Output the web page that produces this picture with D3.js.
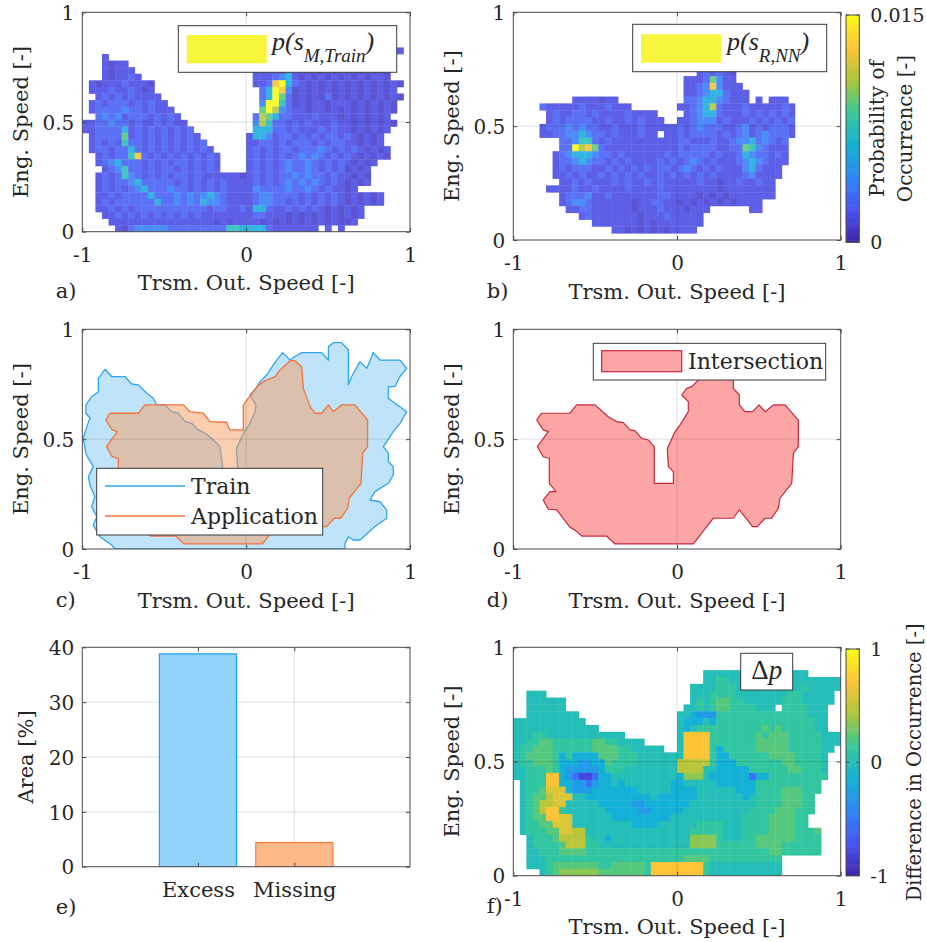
<!DOCTYPE html>
<html>
<head>
<meta charset="utf-8">
<script src="https://cdn.jsdelivr.net/npm/d3@7/dist/d3.min.js"></script>
<style>
  html, body { margin: 0; padding: 0; background: #ffffff; }
  svg { display: block; }
  text { font-family: "DejaVu Serif", serif; fill: #262626; }
  .math { font-family: "Liberation Serif", "DejaVu Serif", serif; }
</style>
</head>
<body>
<svg id="fig" width="927" height="942"></svg>
<script>
// ---------- axis ticks ----------
const xTicks = [-1, 0, 1];
const xTickLabels = ["-1", "0", "1"];
const yTicks = [0, 0.5, 1];
const yTickLabels = ["0", "0.5", "1"];
const xGridValues = [0];
const yGridValues = [0.5];

// ---------- histogram grid ----------
const binWidthX = 0.04;   // transmission output speed bin
const binWidthY = 0.03;   // engine speed bin
const probabilityMax = 0.015;
// occurrence probability per cell, as a fraction of probabilityMax
const probabilityLevel = {"1":0.07,"2":0.11,"3":0.17,"4":0.26,"5":0.40,"6":0.50,"7":0.61,"8":0.72,"9":0.85,"a":1.0};
// difference in occurrence per cell (-1 ... 1)
const differenceLevel = {"A":-0.8,"B":-0.55,"C":-0.3,"D":-0.15,"0":0,"1":0.1,"2":0.22,"3":0.35,"4":0.48,"5":0.6,"6":0.72};

// Rows run from engine speed 0.96-0.99 (first) down to 0-0.03 (last);
// one character per speed bin from -1 to 1, "." = no samples.
const trainRows = [
  ".......... .......... .......... .......... ..........",
  ".......... .......... .......... .......... ..........",
  ".......... .......... .......... .......... ..........",
  ".......... .......... .......... .......... ..........",
  ".......... .......... .......... .......... ..........",
  ".......... .......... .......... .......... ........2.",
  "...2...... .......... .......... .......... ..........",
  "...2122... .......... .......... .......... ..........",
  "...21222.. .......... ......2222 1522121212 1212121...",
  "...212232. .......... ......2223 4521212121 2121221...",
  ".212223222 1......... ......2239 a532121212 121212121.",
  ".222322321 2......... .......35a 9412121212 12121212..",
  "..23232322 22........ .......35a 7312121312 121212121.",
  ".232333232 322....... .......4aa 6312122122 21212121..",
  ".233334332 3222...... .......7a8 4322122121 21212121..",
  "..34342333 23232..... ......3875 3322232221 2121212...",
  "2233433232 232322.... ......4863 3232322232 21212121..",
  "2233335232 3232323... ......5553 3232223232 2121212...",
  ".233337232 32323232.. .....25542 3323232332 321212....",
  ".232326332 323232323. .....22332 3233323233 221212....",
  ".233233532 3232323232 .....23232 3323334323 2321212...",
  "..23233693 2323232323 2....23232 3234343232 3212121...",
  "..23453332 3232332323 2....23232 3433432323 21212.....",
  "...2346332 3233232323 2....23232 3433432323 1212......",
  "..23236432 3232332322 2222123232 3343433232 2121......",
  "..23233453 3333232323 2322223232 3434343232 1212......",
  "..23232345 3334332323 2322224333 3433432322 12........",
  "..22323333 5333434345 4322223443 3332323232 121212....",
  "..23233333 3533434354 4322223443 3232323232 121212....",
  "..22323233 3333333332 3322325532 2323232121 212.......",
  "...2232323 2323232322 2222223322 2121212121 212.......",
  "....222222 2222222222 1212222121 2121212121 12........",
  ".....21344 4443333333 3366555532 222222.2.2 .........."
];

const applicationRows = [
  ".......... .......... .......... .......... ..........",
  ".......... .......... .......... .......... ..........",
  ".......... .......... .......... .......... ..........",
  ".......... .......... .......... .......... ..........",
  ".......... .......... .......... .......... ..........",
  ".......... .......... .......... .......... ..........",
  ".......... .......... .......... .......... ..........",
  ".......... .......... .......... .......... ..........",
  ".......... .......... ........23 2321...... ..........",
  ".......... .......... ......2223 7422...... ..........",
  ".......... .......... ......2234 94222..... ..........",
  ".......... .......... ......2234 553222.... ..........",
  ".........2 222122.... ......3345 543222.2.2 22........",
  "....322222 32223222.. .....22345 8322232222 232.......",
  ".....23223 3232222322 22....2345 5322232323 232.......",
  ".....23233 3322322323 222..22344 4232223232 323.......",
  "....233343 4332232223 2222232343 3322342323 332.......",
  "....223344 5433232223 22.2232333 3232342343 332.......",
  ".......334 6632322222 2222233222 3223445343 23........",
  ".......33a 8973222222 2222232333 3223376432 22........",
  "......2345 5543323222 2223233333 2322354332 32........",
  "......2334 5433232322 2232323432 3222345432 22........",
  "......2323 3322323232 3233234323 2322245322 2.........",
  "......2232 3223232323 2232323232 3222234222 2.........",
  ".......223 2322232322 3232222232 2122322322 ..........",
  ".....22223 2232222322 2232222222 2122222222 ..........",
  ".......233 3422322222 2233222212 1212222222 ..........",
  ".......234 4322222212 2332212121 21212222.. ..........",
  "........22 3322222212 2232221222 ......22.. ..........",
  ".......... 2322222221 222322222. .......... ..........",
  ".......... ..22222221 212222222. .......... ..........",
  ".......... .....22121 21212222.. .......... ..........",
  ".......... .......... .......... .......... .........."
];

const differenceRows = [
  ".......... .......... .......... .......... ..........",
  ".......... .......... .......... .......... ..........",
  ".......... .......... .......... .......... ..........",
  ".......... .......... .........0 0000000000 00000.....",
  ".......... .......... .........0 0110000000 0000000000",
  ".......... .......... .......000 0111000000 0000100000",
  "..000..... .......... .......000 1111000000 001100000.",
  "..000000.. .......... .......010 1221100000 011100000.",
  "..000000.. .......... ......0010 1221111000 .1111000..",
  "..00000000 .......... .....00DCC C111111111 11111000..",
  "0000000000 0......... .....0DDD0 D111111111 11111100..",
  "0000000000 000....... .....0D011 1111111121 21111100..",
  "0001100000 0000000... .....06666 1111111212 2211111000",
  "0011221111 1122110000 .....06666 1111111222 2211111000",
  "0112221111 1122221100 000..06666 1D11111222 221111100.",
  "0122221D1D DDD2221110 0000006666 1DD1111112 22211110..",
  "0112221DDD CCDD211110 0000044444 1DDD111111 12211110..",
  "0011121DCC CCCD111000 0000044440 0DDDDD1111 11221110..",
  "0011166DCB AABDD00000 00000D3330 DDDDDDBDD1 11111111..",
  ".011166DDC CBCDD0D000 0000DD0000 0DDDDDD111 1111111...",
  ".0112555DC CCDDDDDDD0 0000DDDD00 0000DDD111 1222111...",
  ".012245550 0DDDDDDDDD D0DDDDDD00 00000D0111 122211....",
  ".012445500 000DDDDDCC DDDDDDD000 0000000111 122211....",
  ".012466100 0000DDDDDC CDDDDD0000 0000001111 222111....",
  ".012266550 00000DDDDD DDDD000000 0000011112 22211.....",
  ".011225550 00000000DD DD00000011 1100011112 22211.....",
  ".011122554 4000000000 0000000111 1100011112 2221112...",
  "..01112444 4100D00000 0000000333 3100011222 2221111...",
  "..01111244 4110000000 0000000333 3111111222 2111111...",
  "..00111222 2111111111 1111111111 1111111112 2111111...",
  "..00011111 1111111111 1111112222 1111111111 1.........",
  "..00012222 2221122222 1666666661 0000000000 0.........",
  "....012333 3332222222 1666666661 0000000000 0........."
];

// Operating-range outlines [transmission output speed, engine speed]
const trainOutline = [
  [-0.902,0.777],[-0.862,0.818],[-0.821,0.785],[-0.740,0.785],[-0.699,0.751],[-0.658,0.747],
  [-0.607,0.709],[-0.567,0.686],[-0.546,0.656],[-0.495,0.656],[-0.455,0.625],[-0.414,0.618],
  [-0.373,0.580],[-0.333,0.572],[-0.292,0.542],[-0.251,0.527],[-0.211,0.504],[-0.160,0.466],
  [-0.143,0.375],[-0.139,0.299],[-0.022,0.299],[-0.022,0.352],[-0.053,0.375],[-0.059,0.458],
  [-0.012,0.534],[0.018,0.564],[0.054,0.625],[0.060,0.656],[0.023,0.701],[0.059,0.731],
  [0.085,0.762],[0.125,0.792],[0.146,0.815],[0.186,0.860],[0.223,0.894],[0.268,0.860],
  [0.298,0.876],[0.339,0.894],[0.461,0.894],[0.502,0.860],[0.502,0.921],[0.532,0.939],
  [0.583,0.939],[0.624,0.906],[0.624,0.747],[0.644,0.785],[0.695,0.853],[0.736,0.822],
  [0.776,0.894],[0.817,0.860],[0.939,0.860],[0.980,0.822],[0.939,0.785],[0.908,0.739],
  [0.868,0.739],[0.868,0.686],[0.908,0.663],[0.980,0.625],[0.939,0.572],[0.898,0.534],
  [0.858,0.489],[0.837,0.466],[0.868,0.436],[0.868,0.398],[0.898,0.375],[0.898,0.337],
  [0.868,0.299],[0.786,0.261],[0.756,0.223],[0.817,0.215],[0.858,0.178],[0.858,0.140],
  [0.786,0.102],[0.695,0.041],[0.654,0.041],[0.624,0.056],[0.603,0.026],[0.603,0.0],
  [-0.801,0.0],[-0.821,0.018],[-0.892,0.056],[-0.933,0.109],[-0.912,0.147],[-0.943,0.193],
  [-0.923,0.238],[-0.953,0.290],[-0.963,0.329],[-0.933,0.375],[-0.969,0.420],[-0.978,0.436],
  [-0.994,0.504],[-0.969,0.564],[-0.953,0.595],[-0.978,0.618],[-0.978,0.656],[-0.943,0.693],
  [-0.902,0.716]
];

const applicationOutline = [
  [-0.856,0.587],[-0.831,0.618],[-0.658,0.618],[-0.617,0.656],[-0.383,0.656],[-0.343,0.625],
  [-0.261,0.618],[-0.221,0.580],[-0.119,0.577],[-0.099,0.542],[-0.017,0.542],[-0.017,0.656],
  [0.064,0.736],[0.105,0.762],[0.176,0.785],[0.207,0.815],[0.268,0.857],[0.298,0.857],
  [0.339,0.830],[0.349,0.731],[0.390,0.648],[0.420,0.618],[0.461,0.618],[0.502,0.656],
  [0.532,0.625],[0.583,0.656],[0.664,0.656],[0.741,0.587],[0.741,0.466],[0.711,0.436],
  [0.701,0.299],[0.629,0.231],[0.619,0.185],[0.578,0.140],[0.538,0.140],[0.491,0.102],
  [0.462,0.102],[0.381,0.178],[0.344,0.140],[0.222,0.140],[0.100,0.023],[-0.379,0.023],
  [-0.430,0.059],[-0.582,0.059],[-0.623,0.086],[-0.654,0.099],[-0.735,0.178],[-0.786,0.181],
  [-0.817,0.223],[-0.776,0.261],[-0.739,0.261],[-0.780,0.299],[-0.780,0.413],[-0.817,0.420],
  [-0.853,0.466],[-0.786,0.534],[-0.817,0.542]
];

const intersectionOutline = [
  [-0.857,0.587],[-0.827,0.618],[-0.654,0.618],[-0.613,0.656],[-0.501,0.656],[-0.420,0.602],
  [-0.369,0.580],[-0.328,0.575],[-0.287,0.542],[-0.257,0.539],[-0.216,0.504],[-0.175,0.496],
  [-0.139,0.466],[-0.139,0.299],[-0.022,0.299],[-0.022,0.352],[-0.053,0.375],[-0.059,0.458],
  [-0.012,0.534],[0.018,0.564],[0.069,0.625],[0.069,0.671],[0.029,0.701],[0.059,0.731],
  [0.090,0.739],[0.130,0.769],[0.176,0.785],[0.207,0.815],[0.268,0.857],[0.298,0.857],
  [0.339,0.830],[0.344,0.769],[0.344,0.731],[0.381,0.701],[0.381,0.656],[0.415,0.625],
  [0.462,0.625],[0.501,0.656],[0.538,0.625],[0.589,0.656],[0.660,0.656],[0.741,0.587],
  [0.741,0.466],[0.711,0.436],[0.701,0.299],[0.629,0.231],[0.619,0.185],[0.578,0.140],
  [0.538,0.140],[0.491,0.102],[0.462,0.102],[0.381,0.178],[0.344,0.140],[0.222,0.140],
  [0.100,0.023],[-0.379,0.023],[-0.430,0.059],[-0.582,0.059],[-0.623,0.086],[-0.654,0.099],
  [-0.735,0.178],[-0.786,0.181],[-0.817,0.223],[-0.776,0.261],[-0.739,0.261],[-0.780,0.299],
  [-0.780,0.413],[-0.817,0.420],[-0.853,0.466],[-0.786,0.534],[-0.817,0.542]
];

// ---------- area comparison ----------
const areaCategories = ["Excess", "Missing"];
const areaPositions = [1, 2];
const areaValues = [38.8, 4.4];
const areaTicks = [0, 10, 20, 30, 40];
const areaTickLabels = ["0", "10", "20", "30", "40"];

// ---------- colour map (parula) ----------
const parulaStops = ["#3e26a8","#4852f4","#2e87f7","#12b1d6","#37c897","#abc739","#fec338","#f9fb15"];
const parula = d3.scaleLinear()
  .domain(parulaStops.map((_, i) => i / (parulaStops.length - 1)))
  .range(parulaStops).interpolate(d3.interpolateRgb).clamp(true);
const probabilityNorm = d3.scaleLinear().domain([0, probabilityMax]).range([0, 1]);
const differenceNorm = d3.scaleLinear().domain([-1, 1]).range([0, 1]);

// ---------- layout ----------
const svg = d3.select("#fig");
const defs = svg.append("defs");
const frames = {
  a: {l: 82.3, r: 410, t: 12.3, b: 231.7},
  b: {l: 513.3, r: 840.7, t: 12.3, b: 240},
  c: {l: 82.3, r: 410, t: 329.3, b: 549},
  d: {l: 513.3, r: 840.7, t: 329.3, b: 549},
  e: {l: 82.3, r: 410, t: 647.3, b: 866.7},
  f: {l: 513.3, r: 840.7, t: 647.3, b: 875.7}
};
const axisColor = "#4a4a4a";

function makePanel(key, xDomain, yDomain) {
  const bx = frames[key];
  const x = d3.scaleLinear().domain(xDomain).range([bx.l, bx.r]);
  const y = d3.scaleLinear().domain(yDomain).range([bx.b, bx.t]);
  const g = svg.append("g").attr("class", "panel-" + key);
  const cid = "clip-" + key;
  defs.append("clipPath").attr("id", cid).append("rect")
    .attr("x", bx.l).attr("y", bx.t).attr("width", bx.r - bx.l).attr("height", bx.b - bx.t);
  const under = g.append("g");   // layer below the data (used for bar grid)
  const plot = g.append("g").attr("clip-path", `url(#${cid})`);
  return {key, bx, x, y, g, under, plot};
}

function drawCells(p, rows, colorOf, opacity) {
  const cells = [];
  rows.forEach((raw, i) => {
    const row = raw.replace(/ /g, "");
    const j = rows.length - 1 - i;
    for (let c = 0; c < row.length; c++) {
      if (row[c] === ".") continue;
      cells.push({x0: -1 + c * binWidthX, y0: j * binWidthY, ch: row[c]});
    }
  });
  p.plot.append("g").attr("opacity", opacity).selectAll("rect").data(cells).join("rect")
    .attr("x", d => p.x(d.x0))
    .attr("y", d => p.y(d.y0 + binWidthY))
    .attr("width", d => p.x(d.x0 + binWidthX) - p.x(d.x0) + 0.4)
    .attr("height", d => p.y(d.y0) - p.y(d.y0 + binWidthY) + 0.4)
    .attr("fill", d => colorOf(d.ch));
}

function drawGrid(p, xs, ys, layer) {
  const gg = (layer || p.g).append("g").attr("stroke", "#262626").attr("stroke-opacity", 0.14).attr("stroke-width", 1);
  gg.selectAll("line.gx").data(xs).join("line").attr("class", "gx")
    .attr("x1", d => p.x(d)).attr("x2", d => p.x(d)).attr("y1", p.bx.t).attr("y2", p.bx.b);
  gg.selectAll("line.gy").data(ys).join("line").attr("class", "gy")
    .attr("y1", d => p.y(d)).attr("y2", d => p.y(d)).attr("x1", p.bx.l).attr("x2", p.bx.r);
}

function tidy(sel) {
  sel.attr("font-family", null).attr("font-size", null).attr("fill", null);
  sel.select(".domain").remove();
  sel.selectAll(".tick line").attr("stroke", axisColor);
}

function drawAxes(p, xt, xl, yt, yl, opt = {}) {
  const {x, y, bx, g} = p;
  const bottom = g.append("g").attr("transform", `translate(0,${bx.b})`)
    .call(d3.axisBottom(x).tickValues(xt).tickFormat(d => xl[xt.indexOf(d)]).tickSizeInner(-4).tickSizeOuter(0));
  tidy(bottom);
  bottom.selectAll("text").attr("y", 30).attr("dy", null).attr("font-size", opt.xSize || 20);
  const top = g.append("g").attr("transform", `translate(0,${bx.t})`)
    .call(d3.axisTop(x).tickValues(xt).tickFormat(() => "").tickSizeInner(-4).tickSizeOuter(0));
  tidy(top);
  const left = g.append("g").attr("transform", `translate(${bx.l},0)`)
    .call(d3.axisLeft(y).tickValues(yt).tickFormat(d => yl[yt.indexOf(d)]).tickSizeInner(-4).tickSizeOuter(0).tickPadding(8));
  tidy(left);
  left.selectAll("text").attr("font-size", 20).attr("dy", "0.36em");
  const right = g.append("g").attr("transform", `translate(${bx.r},0)`)
    .call(d3.axisRight(y).tickValues(yt).tickFormat(() => "").tickSizeInner(-4).tickSizeOuter(0));
  tidy(right);
  g.append("rect").attr("x", bx.l).attr("y", bx.t).attr("width", bx.r - bx.l).attr("height", bx.b - bx.t)
    .attr("fill", "none").attr("stroke", axisColor).attr("stroke-width", 1);
}

function text(x, y, str, opt = {}) {
  const t = svg.append("text").attr("x", x).attr("y", y).text(str)
    .attr("font-size", opt.size || 21).attr("text-anchor", opt.anchor || "start");
  if (opt.rotate) t.attr("transform", `rotate(-90 ${x} ${y})`);
  return t;
}

function axisTitles(p, xTitle, yTitle, letter, letterY, yTitleX) {
  const bx = p.bx;
  text((bx.l + bx.r) / 2, bx.b + 58.5, xTitle, {anchor: "middle"});
  text(yTitleX != null ? yTitleX : bx.l - 54, (bx.t + bx.b) / 2, yTitle, {anchor: "middle", rotate: true});
  text(bx.l - 26.5, letterY, letter);
}

function legendBox(x0, y0, x1, y1) {
  svg.append("rect").attr("x", x0).attr("y", y0).attr("width", x1 - x0).attr("height", y1 - y0)
    .attr("fill", "#ffffff").attr("stroke", "#3a3a3a").attr("stroke-width", 1);
}

function mathLabel(x, y, sub) {
  const t = svg.append("text").attr("class", "math").attr("x", x).attr("y", y)
    .attr("font-size", 26).attr("font-style", "italic");
  t.append("tspan").text("p(s");
  t.append("tspan").attr("dy", 12).attr("font-size", 19).text(sub);
  t.append("tspan").attr("dy", -12).text(")");
}

function colorbar(x0, x1, y0, y1, domain, norm, labels) {
  const cy = d3.scaleLinear().domain(domain).range([y1, y0]);
  const n = 120;
  const steps = d3.range(n).map(i => domain[0] + (domain[1] - domain[0]) * i / n);
  const dv = (domain[1] - domain[0]) / n;
  svg.append("g").selectAll("rect").data(steps).join("rect")
    .attr("x", x0).attr("width", x1 - x0)
    .attr("y", d => cy(d + dv)).attr("height", d => cy(d) - cy(d + dv) + 0.5)
    .attr("fill", d => parula(norm(d + dv / 2)));
  svg.append("rect").attr("x", x0).attr("y", y0).attr("width", x1 - x0).attr("height", y1 - y0)
    .attr("fill", "none").attr("stroke", axisColor).attr("stroke-width", 1);
  labels.forEach(([v, s]) => {
    text(x1 + 11, cy(v), s, {size: 19}).attr("dy", "0.36em");
    svg.append("line").attr("x1", x0).attr("x2", x0 + 3).attr("y1", cy(v)).attr("y2", cy(v)).attr("stroke", axisColor);
    svg.append("line").attr("x1", x1 - 3).attr("x2", x1).attr("y1", cy(v)).attr("y2", cy(v)).attr("stroke", axisColor);
  });
}

const engTitle = "Eng. Speed [-]";
const trsmTitle = "Trsm. Out. Speed [-]";
const line = d3.line();
const probColor = ch => parula(probabilityNorm(probabilityLevel[ch] * probabilityMax));

// ---------- a) training data distribution ----------
const pA = makePanel("a", [-1, 1], [0, 1]);
drawCells(pA, trainRows, probColor, 0.87);
drawGrid(pA, xGridValues, yGridValues);
drawAxes(pA, xTicks, xTickLabels, yTicks, yTickLabels);
axisTitles(pA, trsmTitle, engTitle, "a)", 298);
legendBox(178.3, 25.7, 396.7, 72.3);
svg.append("rect").attr("x", 186.7).attr("y", 35).attr("width", 80).attr("height", 28.3).attr("fill", "#f6f63c");
mathLabel(272, 50, "M,Train");

// ---------- b) application data distribution ----------
const pB = makePanel("b", [-1, 1], [0, 1]);
drawCells(pB, applicationRows, probColor, 0.87);
drawGrid(pB, xGridValues, yGridValues);
drawAxes(pB, xTicks, xTickLabels, yTicks, yTickLabels);
axisTitles(pB, trsmTitle, engTitle, "b)", 298);
legendBox(632.7, 24.3, 826.7, 71.7);
svg.append("rect").attr("x", 641).attr("y", 34.3).attr("width", 80).attr("height", 28.4).attr("fill", "#f6f63c");
mathLabel(727, 50, "R,NN");
colorbar(846, 859.3, 15, 242.3, [0, probabilityMax], probabilityNorm, [[0, "0"], [probabilityMax, "0.015"]]);
text(884, 128.6, "Probability of", {anchor: "middle", rotate: true, size: 20});
text(912, 128.6, "Occurrence [-]", {anchor: "middle", rotate: true, size: 20});

// ---------- c) operating ranges ----------
const pC = makePanel("c", [-1, 1], [0, 1]);
const toPath = (p, pts) => line(pts.map(([u, v]) => [p.x(u), p.y(v)])) + "Z";
pC.plot.append("path").attr("d", toPath(pC, trainOutline))
  .attr("fill", "#bfe4fa").attr("stroke", "#2fa3ee").attr("stroke-width", 1.3).attr("stroke-linejoin", "round");
pC.plot.append("path").attr("d", toPath(pC, applicationOutline))
  .attr("fill", "#f59b5f").attr("fill-opacity", 0.5).attr("stroke", "#f2733c").attr("stroke-width", 1.3).attr("stroke-linejoin", "round");
drawGrid(pC, xGridValues, yGridValues);
drawAxes(pC, xTicks, xTickLabels, yTicks, yTickLabels);
axisTitles(pC, trsmTitle, engTitle, "c)", 607);
legendBox(96.7, 468.3, 322.7, 535);
svg.append("line").attr("x1", 105).attr("x2", 185).attr("y1", 486).attr("y2", 486).attr("stroke", "#2fa3ee").attr("stroke-width", 1.3);
svg.append("line").attr("x1", 105).attr("x2", 185).attr("y1", 516).attr("y2", 516).attr("stroke", "#f2733c").attr("stroke-width", 1.3);
text(191, 494, "Train", {size: 22});
text(191, 524, "Application", {size: 22});

// ---------- d) intersection ----------
const pD = makePanel("d", [-1, 1], [0, 1]);
pD.plot.append("path").attr("d", toPath(pD, intersectionOutline))
  .attr("fill", "#fba5a5").attr("stroke", "#c8283c").attr("stroke-width", 1.2).attr("stroke-linejoin", "round");
drawGrid(pD, xGridValues, yGridValues);
drawAxes(pD, xTicks, xTickLabels, yTicks, yTickLabels);
axisTitles(pD, trsmTitle, engTitle, "d)", 607);
legendBox(593.3, 343.3, 825.7, 380);
svg.append("rect").attr("x", 601.7).attr("y", 350.7).attr("width", 80).attr("height", 21)
  .attr("fill", "#fba5a5").attr("stroke", "#c8283c").attr("stroke-width", 1.2);
text(688, 369, "Intersection", {size: 22});

// ---------- e) area comparison ----------
const pE = makePanel("e", [-0.2, 3.2], [0, 40]);
drawGrid(pE, areaPositions, areaTicks.slice(1, -1), pE.under);
const barFill = ["#92d3fc", "#fdb98a"];
const barEdge = ["#1e9ff0", "#f57a3a"];
pE.plot.append("g").selectAll("rect").data(areaValues).join("rect")
  .attr("x", (d, i) => pE.x(areaPositions[i] - 0.4))
  .attr("width", (d, i) => pE.x(areaPositions[i] + 0.4) - pE.x(areaPositions[i] - 0.4))
  .attr("y", d => pE.y(d)).attr("height", d => pE.y(0) - pE.y(d))
  .attr("fill", (d, i) => barFill[i]).attr("stroke", (d, i) => barEdge[i]).attr("stroke-width", 1.2);
drawAxes(pE, areaPositions, areaCategories, areaTicks, areaTickLabels, {xSize: 21});
text(33, (frames.e.t + frames.e.b) / 2, "Area [%]", {anchor: "middle", rotate: true});
text(55.8, 914, "e)");

// ---------- f) difference ----------
const pF = makePanel("f", [-1, 1], [0, 1]);
drawCells(pF, differenceRows, ch => parula(differenceNorm(differenceLevel[ch])), 1);
drawGrid(pF, xGridValues, yGridValues);
drawAxes(pF, xTicks, xTickLabels, yTicks, yTickLabels);
axisTitles(pF, trsmTitle, engTitle, "f)", 913);
legendBox(740.7, 653.3, 792.7, 690);
const dl = svg.append("text").attr("class", "math").attr("x", 766.7).attr("y", 679)
  .attr("text-anchor", "middle").attr("font-size", 27);
dl.append("tspan").text("\u0394");
dl.append("tspan").attr("font-style", "italic").text("p");
colorbar(846, 859.3, 649, 875.7, [-1, 1], differenceNorm, [[-1, "-1"], [0, "0"], [1, "1"]]);
text(921, 762.3, "Difference in Occurrence [-]", {anchor: "middle", rotate: true, size: 19.5});
</script>
</body>
</html>
